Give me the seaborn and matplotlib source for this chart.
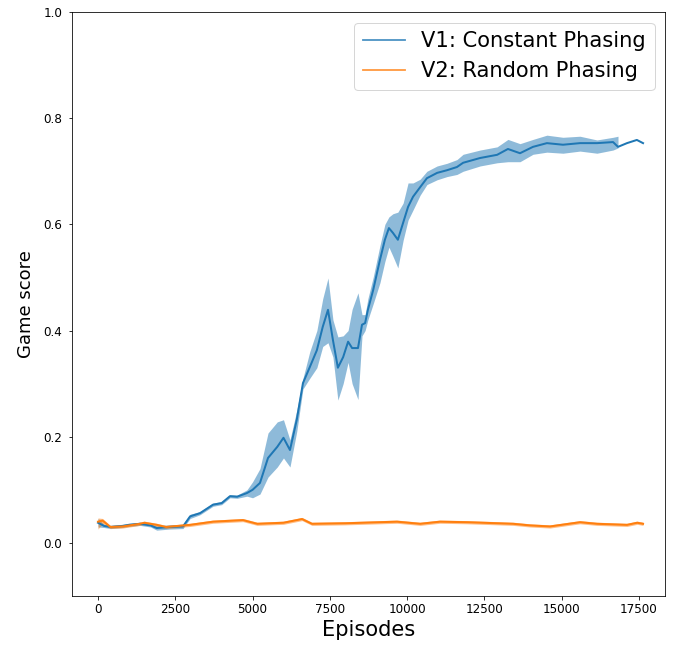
import numpy as np
import pandas as pd
import matplotlib
matplotlib.use("Agg")
import matplotlib.pyplot as plt
import seaborn as sns

# V1: Constant Phasing  (mean curve)
v1_episodes = [0, 200, 400, 800, 1000, 1360, 1700, 1900, 2300, 2750, 2980, 3300, 3720, 4000,
               4270, 4500, 4820, 5000, 5240, 5500, 5800, 6000, 6210, 6430, 6630, 6850, 7080,
               7270, 7440, 7600, 7760, 7930, 8090, 8220, 8410, 8540, 8640, 8730, 8900, 9120,
               9280, 9410, 9540, 9700, 9870, 10030, 10190, 10420, 10640, 10970, 11290, 11610,
               11810, 12360, 12910, 13260, 13650, 14070, 14520, 15040, 15590, 16140, 16660,
               16820, 17110, 17430, 17630]
v1_mean = [0.038, 0.032, 0.030, 0.032, 0.034, 0.036, 0.033, 0.028, 0.030, 0.031, 0.050, 0.056,
           0.072, 0.075, 0.088, 0.087, 0.094, 0.100, 0.113, 0.160, 0.181, 0.198, 0.175, 0.232,
           0.301, 0.331, 0.363, 0.407, 0.439, 0.382, 0.330, 0.350, 0.379, 0.367, 0.367, 0.411,
           0.414, 0.439, 0.476, 0.533, 0.571, 0.593, 0.584, 0.571, 0.603, 0.633, 0.652, 0.670,
           0.687, 0.697, 0.702, 0.708, 0.716, 0.725, 0.731, 0.742, 0.734, 0.746, 0.753, 0.750,
           0.753, 0.753, 0.755, 0.746, 0.753, 0.759, 0.753]
v1_low = [0.030, 0.029, 0.027, 0.029, 0.031, 0.033, 0.030, 0.024, 0.026, 0.027, 0.046, 0.053,
          0.069, 0.072, 0.085, 0.084, 0.088, 0.085, 0.092, 0.124, 0.143, 0.160, 0.143, 0.210,
          0.290, 0.310, 0.330, 0.370, 0.377, 0.350, 0.269, 0.300, 0.340, 0.300, 0.270, 0.390,
          0.400, 0.420, 0.450, 0.490, 0.530, 0.557, 0.540, 0.518, 0.570, 0.608, 0.627, 0.655,
          0.675, 0.684, 0.690, 0.694, 0.700, 0.710, 0.716, 0.718, 0.718, 0.732, 0.736, 0.734,
          0.738, 0.734, 0.740, 0.744, np.nan, np.nan, np.nan]
v1_high = [0.046, 0.035, 0.033, 0.035, 0.037, 0.039, 0.036, 0.032, 0.034, 0.035, 0.054, 0.059,
           0.075, 0.078, 0.091, 0.090, 0.100, 0.115, 0.140, 0.207, 0.228, 0.232, 0.194, 0.250,
           0.310, 0.360, 0.400, 0.460, 0.499, 0.420, 0.388, 0.390, 0.400, 0.440, 0.471, 0.430,
           0.430, 0.460, 0.500, 0.560, 0.600, 0.614, 0.620, 0.623, 0.640, 0.678, 0.678, 0.685,
           0.700, 0.710, 0.715, 0.722, 0.732, 0.740, 0.746, 0.760, 0.752, 0.760, 0.768, 0.764,
           0.766, 0.759, 0.764, 0.766, np.nan, np.nan, np.nan]

# V2: Random Phasing
v2_episodes = [0, 150, 400, 800, 1360, 1500, 1900, 2200, 2980, 3720, 4690, 5150, 6000, 6600,
               6920, 8000, 9670, 10420, 11060, 11940, 13430, 13970, 14620, 15590, 16140, 17110,
               17440, 17630]
v2_mean = [0.040, 0.042, 0.030, 0.031, 0.036, 0.038, 0.034, 0.030, 0.034, 0.040, 0.043, 0.036,
           0.038, 0.045, 0.036, 0.037, 0.040, 0.036, 0.040, 0.039, 0.036, 0.033, 0.031, 0.039,
           0.036, 0.034, 0.038, 0.036]
v2_low = [0.026, 0.037, 0.027, 0.028, 0.033, 0.035, 0.031, 0.027, 0.031, 0.037, 0.040, 0.033,
          0.035, 0.042, 0.033, 0.034, 0.037, 0.033, 0.037, 0.036, 0.033, 0.030, 0.028, 0.036,
          0.033, 0.031, 0.035, 0.033]
v2_high = [0.047, 0.046, 0.033, 0.034, 0.039, 0.041, 0.037, 0.033, 0.037, 0.043, 0.046, 0.039,
           0.041, 0.048, 0.039, 0.040, 0.043, 0.039, 0.043, 0.042, 0.039, 0.036, 0.034, 0.042,
           0.039, 0.037, 0.041, 0.039]

v1 = pd.DataFrame({"episode": v1_episodes, "score": v1_mean, "lo": v1_low, "hi": v1_high})
v2 = pd.DataFrame({"episode": v2_episodes, "score": v2_mean, "lo": v2_low, "hi": v2_high})

fig = plt.figure(figsize=(683 / 72, 649 / 72), dpi=72)
ax = fig.add_axes([72 / 683, 1 - 596 / 649, 593 / 683, 584 / 649])

blue, orange = "#1f77b4", "#ff7f0e"

sns.lineplot(data=v1, x="episode", y="score", ax=ax, color=blue, linewidth=2,
             label="V1: Constant Phasing")
ax.fill_between(v1["episode"], v1["lo"], v1["hi"], color=blue, alpha=0.5, linewidth=0)
sns.lineplot(data=v2, x="episode", y="score", ax=ax, color=orange, linewidth=2,
             label="V2: Random Phasing")
ax.fill_between(v2["episode"], v2["lo"], v2["hi"], color=orange, alpha=0.5, linewidth=0)

ax.set_xlim(-840, 18340)
ax.set_ylim(-0.1, 1.0)
ax.set_xticks([0, 2500, 5000, 7500, 10000, 12500, 15000, 17500])
ax.tick_params(labelsize=12)
ax.tick_params(axis="y", pad=6)
ax.set_xlabel("Episodes", fontsize=21)
ax.set_ylabel("Game score", fontsize=18, labelpad=8)
leg = ax.legend(loc="upper right", fontsize=21)
for h in leg.get_lines():
    h.set_alpha(0.8)
    h.set_linewidth(1.8)

fig.savefig("out.png", dpi=72)
